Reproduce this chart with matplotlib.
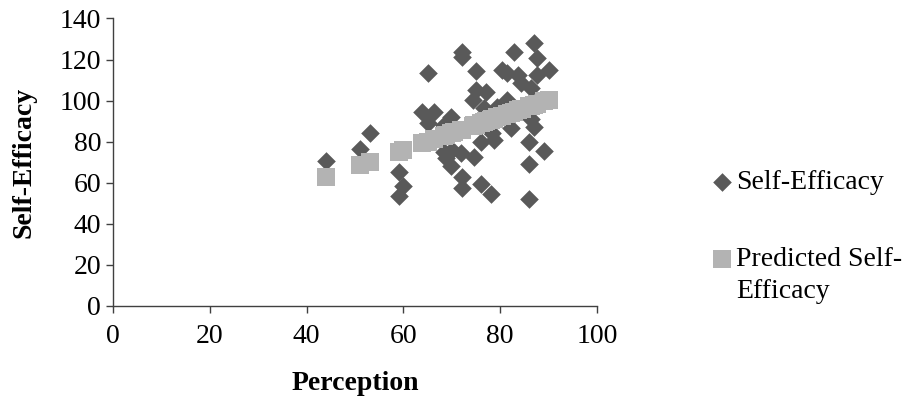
import matplotlib
matplotlib.use("Agg")
import matplotlib.pyplot as plt

# ---------- data ----------
perception = [44, 51, 53, 59, 60, 59, 63.9, 66.3, 65, 65,
              68.4, 68.4, 69.8, 70.1, 68.7, 69.8, 71.8, 72, 72, 72,
              72, 74.6, 75, 75, 77, 74.3, 76.7, 79.4, 76, 78.7,
              78.4, 76, 78, 80.3, 81.5, 83.6, 82.9, 87, 87.7, 87.7,
              90, 84.3, 86.3, 81.5, 86.3, 87, 82.2, 86, 89.1, 86,
              86, 70.5, 76.6, 84.5]
self_efficacy = [70.5, 76.3, 84.2, 65.2, 58.5, 53.4, 94.3, 94.3, 113.3, 88.9,
                 88, 75.1, 92.2, 76, 72, 68, 74.3, 123.8, 121.4, 63,
                 57.5, 72.7, 114.3, 105.2, 104.3, 100.3, 96.2, 97, 80, 81,
                 84, 59.5, 54.3, 115, 113.3, 112.5, 123.5, 127.9, 121, 112.5,
                 115, 108.4, 106, 100.3, 91, 87.3, 86.5, 80, 75.5, 69,
                 52.2, 85, 93, 95]
predicted = [63.0, 68.7, 70.3, 75.2, 76.0, 75.2, 79.2, 81.1, 80.1, 80.1,
             82.8, 82.8, 84.0, 84.2, 83.1, 84.0, 85.6, 85.8, 85.8, 85.8,
             85.8, 87.9, 88.2, 88.2, 89.9, 87.7, 89.6, 91.8, 89.0, 91.2,
             91.0, 89.0, 90.7, 92.5, 93.5, 95.2, 94.7, 98.0, 98.6, 98.6,
             100.5, 95.8, 97.4, 93.5, 97.4, 98.0, 94.1, 97.2, 99.7, 97.2,
             97.2, 84.6, 89.5, 96.0]
x_ticks = [0, 20, 40, 60, 80, 100]
y_ticks = [0, 20, 40, 60, 80, 100, 120, 140]
# ------------------------------------------------

plt.rcParams['font.family'] = ['Liberation Serif', 'DejaVu Serif']
FS = 20

fig = plt.figure(figsize=(9.05, 3.96), dpi=100)
ax = fig.add_axes([0.1249, 0.2273, 0.6597 - 0.1249, 0.9533 - 0.2273])

ax.scatter(perception, self_efficacy, marker='D', s=90, c='#595959',
           linewidths=0, label='Self-Efficacy', zorder=2)
ax.scatter(perception, predicted, marker='s', s=150, c='#b3b3b3',
           linewidths=0, label='Predicted Self-', zorder=3)

ax.set_xlim(0, 100)
ax.set_ylim(0, 140)
ax.set_xticks(x_ticks)
ax.set_yticks(y_ticks)
ax.tick_params(direction='out', length=5, width=1, colors='#404040',
               labelcolor='black', labelsize=FS)
ax.tick_params(axis='x', pad=8)
for side in ('top', 'right'):
    ax.spines[side].set_visible(False)
for side in ('left', 'bottom'):
    ax.spines[side].set_color('#404040')
    ax.spines[side].set_linewidth(1)

ax.set_xlabel('Perception', fontsize=FS, fontweight='bold', labelpad=16)
ax.set_ylabel('Self-Efficacy', fontsize=FS, fontweight='bold', labelpad=17)

leg = ax.legend(loc='upper left', bbox_to_anchor=(0.7706, 0.607),
                bbox_transform=fig.transFigure, frameon=False, fontsize=FS,
                handletextpad=0.1, labelspacing=1.85, borderpad=0,
                handlelength=0.8, scatterpoints=1)

# wrapped second line of the second legend label (drawn after the legend)
ax.annotate('Efficacy', xy=(0, 0), xycoords=leg.get_texts()[1],
            xytext=(0, -5), textcoords='offset points',
            ha='left', va='top', fontsize=FS, zorder=10,
            annotation_clip=False)

fig.savefig('out.png', dpi=100)
